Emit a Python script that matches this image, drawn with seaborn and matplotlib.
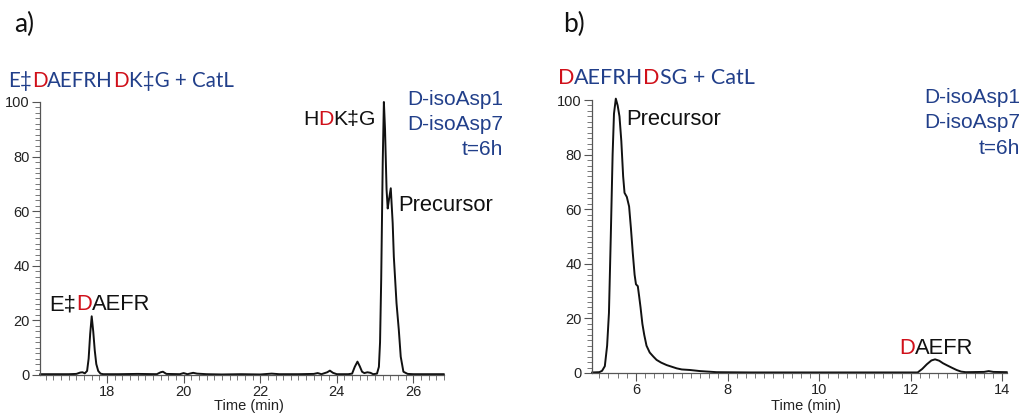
import numpy as np
import pandas as pd
import matplotlib
matplotlib.use("Agg")
import matplotlib.pyplot as plt
from matplotlib.ticker import MultipleLocator
from matplotlib import font_manager
from matplotlib.ft2font import FT2Font
import seaborn as sns

# ---------------- data ----------------
time_a = [16.25, 16.6, 17.0, 17.2, 17.3, 17.36, 17.42, 17.48, 17.52, 17.56, 17.6, 17.64,
          17.68, 17.72, 17.77, 17.83, 17.9, 18.3, 18.8, 19.3, 19.4, 19.46, 19.55, 19.9,
          20.0, 20.1, 20.25, 20.35, 20.6, 21.0, 21.5, 22.0, 22.3, 22.5, 23.0, 23.4, 23.5,
          23.6, 23.75, 23.82, 23.9, 24.0, 24.3, 24.4, 24.47, 24.54, 24.6, 24.66, 24.72,
          24.8, 24.88, 24.95, 25.05, 25.1, 25.13, 25.16, 25.2, 25.23, 25.26, 25.3, 25.33,
          25.36, 25.41, 25.46, 25.49, 25.53, 25.56, 25.62, 25.67, 25.74, 25.85, 26.0,
          26.4, 26.8]
int_a = [0.3, 0.3, 0.3, 0.4, 0.9, 1.0, 0.6, 1.5, 6, 15, 21.5, 16,
         9, 4, 1.5, 0.5, 0.3, 0.3, 0.4, 0.3, 1.0, 1.2, 0.4, 0.3,
         0.7, 0.3, 0.8, 0.5, 0.3, 0.2, 0.3, 0.2, 0.5, 0.3, 0.3, 0.4, 0.7,
         0.3, 1.0, 1.6, 0.8, 0.3, 0.3, 0.5, 3.0, 4.9, 3.2, 1.2, 0.7,
         1.0, 0.8, 0.3, 0.5, 3, 12, 35, 78, 100, 90, 68, 61,
         64, 68.4, 55.6, 43.3, 33.6, 26.3, 16.5, 6.7, 1.2, 0.4, 0.3,
         0.3, 0.3]

time_b = [5.04, 5.2, 5.26, 5.32, 5.37, 5.41, 5.45, 5.49, 5.52, 5.56, 5.6, 5.64, 5.68,
          5.72, 5.75, 5.8, 5.85, 5.89, 5.93, 5.97, 6.0, 6.04, 6.07, 6.1, 6.14, 6.18,
          6.23, 6.3, 6.38, 6.45, 6.55, 6.67, 6.78, 6.89, 7.0, 7.18, 7.4, 7.76, 8.5,
          9.5, 10.5, 11.5, 12.15, 12.25, 12.35, 12.45, 12.53, 12.62, 12.7, 12.78,
          12.9, 13.0, 13.1, 13.2, 13.6, 13.7, 13.8, 14.1]
int_b = [0.2, 0.3, 0.8, 2.5, 10, 22, 50, 80, 95, 100.5, 98, 94, 85,
         72, 66, 64.5, 61, 53, 44, 36, 32.5, 31.8, 28, 24, 18, 14,
         10, 7.5, 6, 4.8, 3.8, 2.9, 2.3, 1.7, 1.3, 1.1, 0.7, 0.3, 0.2,
         0.2, 0.2, 0.2, 0.2, 1.5, 3.2, 4.6, 5.0, 4.5, 3.6, 2.9,
         1.9, 1.1, 0.5, 0.3, 0.4, 0.7, 0.4, 0.3]

xlim_a = (16.25, 26.8)
xlim_b = (5.04, 14.1)

BLUE = "#213f8a"
RED = "#d0101a"
BLACK = "#111111"

# ---------------- style ----------------
sns.set_style("ticks")
plt.rcParams['font.family'] = ['Liberation Sans', 'DejaVu Sans']

W, H = 1025, 417
fig = plt.figure(figsize=(W / 100, H / 100), dpi=100)


def px_axes(left, top, right, bottom):
    return fig.add_axes([left / W, 1 - bottom / H, (right - left) / W, (bottom - top) / H])


ax_a = px_axes(40, 102, 444, 375)
ax_b = px_axes(592, 100, 1007, 373)

df_a = pd.DataFrame({"t": time_a, "i": int_a})
df_b = pd.DataFrame({"t": time_b, "i": int_b})

for ax, df, xl in ((ax_a, df_a, xlim_a), (ax_b, df_b, xlim_b)):
    sns.lineplot(data=df, x="t", y="i", ax=ax, color=BLACK, lw=1.4,
                 estimator=None, clip_on=False)
    ax.set_xlim(*xl)
    ax.set_ylim(0, 100)
    sns.despine(ax=ax)
    ax.spines['left'].set_color('#555555')
    ax.spines['bottom'].set_color('#555555')
    ax.spines['left'].set_linewidth(0.9)
    ax.spines['bottom'].set_linewidth(0.9)
    ax.xaxis.set_major_locator(MultipleLocator(2))
    ax.xaxis.set_minor_locator(MultipleLocator(0.2))
    ax.yaxis.set_major_locator(MultipleLocator(20))
    ax.yaxis.set_minor_locator(MultipleLocator(2))
    ax.tick_params(which='major', direction='out', length=6, width=0.8,
                   color='#555555', labelsize=10.5, pad=1.5, labelcolor='#222222')
    ax.tick_params(which='minor', direction='out', length=3.5, width=0.7,
                   color='#777777')
    ax.set_ylabel("")
    ax.set_xlabel("Time (min)", fontsize=10.5, color='#222222')

ax_a.xaxis.set_label_coords((249 - 40) / 404, -(399 - 375) / 273)
ax_b.xaxis.set_label_coords((806 - 592) / 415, -(399 - 373) / 273)

_font_cache = {}


def advance_px(s, family, size):
    path = font_manager.findfont(font_manager.FontProperties(family=family))
    if path not in _font_cache:
        _font_cache[path] = FT2Font(path)
    f = _font_cache[path]
    f.set_size(size, 100)
    total = 0.0
    for ch in s:
        g = f.load_char(ord(ch))
        total += g.linearHoriAdvance / 65536.0
    return total


def rich_text(x_px, y_px, parts, size, family):
    x = x_px
    for s, c in parts:
        fig.text(x / W, 1 - y_px / H, s, color=c, fontsize=size,
                 family=family, va='baseline', ha='left')
        x += advance_px(s, family, size)


title_fam = 'Lato'
lab_fam = 'Liberation Sans'

# panel letters
fig.text(14 / W, 1 - 32 / H, "a)", fontsize=19, family=title_fam, color=BLACK, va='baseline')
fig.text(563 / W, 1 - 32 / H, "b)", fontsize=19, family=title_fam, color=BLACK, va='baseline')

# titles
rich_text(8, 87, [("E‡", BLUE), ("D", RED), ("AEFRH", BLUE), ("D", RED), ("K‡G + CatL", BLUE)],
          14.8, title_fam)
rich_text(558, 84, [("D", RED), ("AEFRH", BLUE), ("D", RED), ("SG + CatL", BLUE)],
          15.5, title_fam)

# condition labels
for xr, ys in ((503, (105, 130, 155)), (1020, (103, 128, 154))):
    for s, y in zip(("D-isoAsp1", "D-isoAsp7", "t=6h"), ys):
        fig.text(xr / W, 1 - y / H, s, fontsize=15, family=lab_fam, color=BLUE,
                 ha='right', va='baseline')

# peak labels
rich_text(49, 310, [("E‡", BLACK), ("D", RED), ("AEFR", BLACK)], 15.8, lab_fam)
rich_text(303, 125, [("H", BLACK), ("D", RED), ("K‡G", BLACK)], 15.3, lab_fam)
fig.text(398 / W, 1 - 211 / H, "Precursor", fontsize=15.8, family=lab_fam, color=BLACK, va='baseline')
fig.text(626 / W, 1 - 125 / H, "Precursor", fontsize=15.8, family=lab_fam, color=BLACK, va='baseline')
rich_text(899, 354, [("D", RED), ("AEFR", BLACK)], 15.8, lab_fam)

fig.savefig("out.png", dpi=100)
